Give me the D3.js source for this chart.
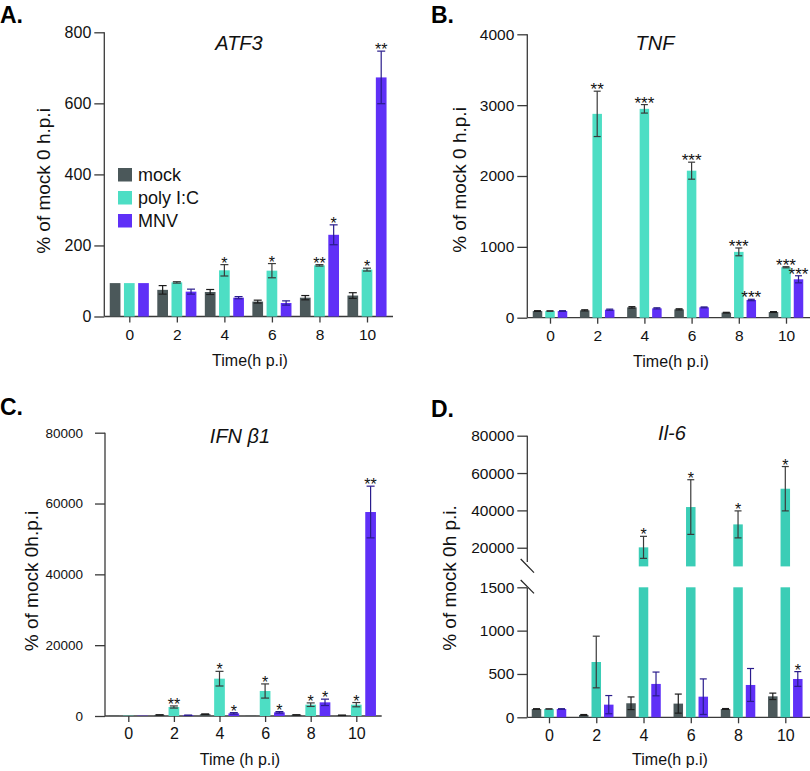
<!DOCTYPE html>
<html>
<head>
<meta charset="utf-8">
<script src="https://cdn.jsdelivr.net/npm/d3@7"></script>
<style>
  html, body { margin: 0; padding: 0; background: #fff; }
  svg { display: block; font-family: Arial, "Liberation Sans", Helvetica, sans-serif; }
</style>
</head>
<body>
<svg id="chart" width="810" height="771"></svg>
<script>
// ---------------- DATA ----------------
const categories = ["0", "2", "4", "6", "8", "10"];
const seriesNames = ["mock", "poly I:C", "MNV"];

// A. ATF3
const atf3Mock = [94, 75, 69, 42, 53, 59];
const atf3MockErr = [0, 12, 7, 4, 6, 8];
const atf3Poly = [94, 96, 130, 129, 144, 132];
const atf3PolyErr = [0, 2, 16, 20, 2, 4];
const atf3Mnv = [94, 70, 53, 38, 230, 673];
const atf3MnvErr = [0, 7, 3, 6, 28, 74];
const atf3PolyStars = ["", "", "*", "*", "**", "*"];
const atf3MnvStars = ["", "", "", "", "*", "**"];
const atf3Ticks = [0, 200, 400, 600, 800];

// B. TNF
const tnfMock = [94, 104, 146, 118, 71, 80];
const tnfMockErr = [5, 8, 10, 8, 5, 6];
const tnfPoly = [94, 2877, 2948, 2075, 929, 712];
const tnfPolyErr = [5, 320, 60, 120, 55, 8];
const tnfMnv = [94, 113, 132, 146, 250, 542];
const tnfMnvErr = [5, 8, 8, 6, 10, 50];
const tnfPolyStars = ["", "**", "***", "***", "***", "***"];
const tnfMnvStars = ["", "", "", "", "***", "***"];
const tnfTicks = [0, 1000, 2000, 3000, 4000];

// C. IFN beta1
const ifnMock = [100, 300, 500, 100, 300, 200];
const ifnMockErr = [0, 50, 100, 0, 50, 50];
const ifnPoly = [100, 2541, 10541, 7059, 3200, 3200];
const ifnPolyErr = [0, 300, 2070, 2000, 500, 600];
const ifnMnv = [100, 200, 750, 1035, 3860, 57600];
const ifnMnvErr = [0, 50, 200, 200, 900, 7300];
const ifnPolyStars = ["", "**", "*", "*", "*", "*"];
const ifnMnvStars = ["", "", "*", "*", "*", "**"];
const ifnTicks = [0, 20000, 40000, 60000, 80000];

// D. Il-6 (broken axis)
const il6Mock = [96, 27, 162, 158, 96, 242];
const il6MockErr = [3, 5, 73, 110, 5, 37];
const il6Poly = [96, 638, 20200, 41786, 32500, 51607];
const il6PolyErr = [3, 298, 5900, 14640, 7230, 11875];
const il6Mnv = [96, 146, 385, 238, 373, 442];
const il6MnvErr = [3, 105, 137, 205, 190, 85];
const il6PolyStars = ["", "", "*", "*", "*", "*"];
const il6MnvStars = ["", "", "", "", "", "*"];
const il6TicksLow = [0, 500, 1000, 1500];
const il6TicksHigh = [20000, 40000, 60000, 80000];
const il6LowDomain = [0, 1500];
const il6HighDomain = [10000, 80000];

// ---------------- STYLE ----------------
const colors = ["#4b585a", "#4ddec4", "#5f30f7"];
const errColors = ["#1c1c1c", "#3a3a3a", "#2a1c8c"];
const axisColor = "#3a3a3a";

const svg = d3.select("#chart");
svg.append("rect").attr("width", 810).attr("height", 771).attr("fill", "#fff");

function styleAxis(g, fontSize) {
  g.selectAll("line").attr("stroke", axisColor).attr("stroke-width", 1.3);
  g.selectAll("path").remove();
  g.selectAll("text").attr("fill", "#111").style("font-size", fontSize + "px")
    .style("font-family", "Arial, 'Liberation Sans', sans-serif");
}

function drawPanel(cfg) {
  const g = svg.append("g");
  // panel label
  g.append("text").attr("x", cfg.lx).attr("y", cfg.ly).text(cfg.label)
    .style("font-size", "23px").style("font-weight", "bold").attr("fill", "#000");
  // title
  g.append("text").attr("x", cfg.tx).attr("y", cfg.ty).text(cfg.title)
    .attr("text-anchor", "middle").style("font-size", "20px").style("font-style", "italic").attr("fill", "#111");

  const x = d3.scalePoint().domain(categories).range([cfg.xFirst, cfg.xLast]);

  // y scales (one or two segments)
  const segs = cfg.segments;
  function yOf(v) {
    for (const s of segs) {
      if (v >= s.domain[0] && v <= s.domain[1]) return s.scale(v);
    }
    return null;
  }
  segs.forEach(s => {
    s.scale = d3.scaleLinear().domain(s.domain).range(s.range);
    const ax = g.append("g").attr("transform", `translate(${cfg.yAxisX},0)`)
      .call(d3.axisLeft(s.scale).tickValues(s.ticks).tickSize(10).tickSizeOuter(0).tickPadding(cfg.yTickPad).tickFormat(d3.format("d")));
    styleAxis(ax, cfg.yTickFont);
    g.append("line").attr("x1", cfg.yAxisX).attr("x2", cfg.yAxisX)
      .attr("y1", s.lineTop).attr("y2", s.lineBottom)
      .attr("stroke", axisColor).attr("stroke-width", 1.3);
  });
  const low = segs[0].scale;
  const y0 = low(0);

  // x axis
  const xa = g.append("g").attr("transform", `translate(0,${y0})`)
    .call(d3.axisBottom(x).tickSize(6).tickSizeOuter(0).tickPadding(6));
  styleAxis(xa, cfg.xTickFont);
  g.append("line").attr("x1", cfg.yAxisX).attr("x2", cfg.xAxisEnd).attr("y1", y0).attr("y2", y0)
    .attr("stroke", axisColor).attr("stroke-width", 1.3);

  // bars
  const series = [cfg.mock, cfg.poly, cfg.mnv];
  const errs = [cfg.mockErr, cfg.polyErr, cfg.mnvErr];
  const stars = [null, cfg.polyStars, cfg.mnvStars];
  const barColors = cfg.colors || colors;
  series.forEach((vals, si) => {
    const off = (si - 1) * cfg.off;
    vals.forEach((v, i) => {
      const cx = x(categories[i]) + off;
      const bx = cx - cfg.barW / 2;
      if (segs.length === 1) {
        g.append("rect").attr("x", bx).attr("width", cfg.barW)
          .attr("y", low(v)).attr("height", y0 - low(v)).attr("fill", barColors[si]);
      } else {
        const hi = segs[1];
        if (v > segs[0].domain[1]) {
          g.append("rect").attr("x", bx).attr("width", cfg.barW)
            .attr("y", low(segs[0].domain[1])).attr("height", y0 - low(segs[0].domain[1])).attr("fill", barColors[si]);
          g.append("rect").attr("x", bx).attr("width", cfg.barW)
            .attr("y", hi.scale(v)).attr("height", hi.scale(hi.domain[0]) - hi.scale(v)).attr("fill", barColors[si]);
        } else {
          g.append("rect").attr("x", bx).attr("width", cfg.barW)
            .attr("y", low(v)).attr("height", y0 - low(v)).attr("fill", barColors[si]);
        }
      }
      const e = errs[si][i];
      let topY = yOf(v);
      if (e > 0) {
        const yT = yOf(v + e), yB = yOf(Math.max(0, v - e));
        topY = yT;
        const ec = errColors[si];
        g.append("line").attr("x1", cx).attr("x2", cx).attr("y1", yT).attr("y2", yB)
          .attr("stroke", ec).attr("stroke-width", 1.2);
        [yT, yB].forEach(yy => g.append("line").attr("x1", cx - cfg.cap).attr("x2", cx + cfg.cap)
          .attr("y1", yy).attr("y2", yy).attr("stroke", ec).attr("stroke-width", 1.2));
      }
      if (stars[si] && stars[si][i]) {
        g.append("text").attr("x", cx).attr("y", topY + 4).attr("text-anchor", "middle")
          .style("font-size", cfg.starFont + "px").attr("fill", "#111").text(stars[si][i]);
      }
    });
  });

  // axis labels
  g.append("text").attr("transform", `translate(${cfg.ylx},${cfg.yly}) rotate(-90)`)
    .attr("text-anchor", "middle").attr("dy", "0.35em").style("font-size", "19px").attr("fill", "#111").text(cfg.ylabel);
  g.append("text").attr("x", cfg.xlx).attr("y", cfg.xly).attr("text-anchor", "middle")
    .style("font-size", "16px").attr("fill", "#111").text(cfg.xlabel);
  return g;
}

// Panel A
const gA = drawPanel({
  label: "A.", lx: 0, ly: 23, title: "ATF3", tx: 239, ty: 50,
  yAxisX: 104.3, xAxisEnd: 393, xFirst: 129.3, xLast: 367,
  segments: [{ domain: [0, 800], range: [316.5, 32.3], ticks: atf3Ticks, lineTop: 32.3, lineBottom: 316.5 }],
  yTickFont: 16, xTickFont: 15.5, yTickPad: 3,
  barW: 10.7, off: 14.2, cap: 4, starFont: 16,
  mock: atf3Mock, mockErr: atf3MockErr, poly: atf3Poly, polyErr: atf3PolyErr, mnv: atf3Mnv, mnvErr: atf3MnvErr,
  polyStars: atf3PolyStars, mnvStars: atf3MnvStars,
  ylabel: "% of mock 0 h.p.i", ylx: 43, yly: 181, xlabel: "Time(h p.i)", xlx: 250, xly: 366
});
// legend in A
seriesNames.forEach((n, i) => {
  gA.append("rect").attr("x", 118).attr("y", 168 + i * 23).attr("width", 14).attr("height", 13.5).attr("fill", colors[i]);
  gA.append("text").attr("x", 138).attr("y", 181 + i * 23).style("font-size", "18px").attr("fill", "#111").text(n);
});

// Panel B
drawPanel({
  label: "B.", lx: 431, ly: 23, title: "TNF", tx: 655, ty: 50,
  yAxisX: 527.3, xAxisEnd: 810, xFirst: 550, xLast: 786,
  segments: [{ domain: [0, 4000], range: [317.7, 34.3], ticks: tnfTicks, lineTop: 34.3, lineBottom: 317.7 }],
  yTickFont: 15.5, xTickFont: 15.5, yTickPad: 3,
  barW: 9.5, off: 12.5, cap: 3.5, starFont: 17,
  mock: tnfMock, mockErr: tnfMockErr, poly: tnfPoly, polyErr: tnfPolyErr, mnv: tnfMnv, mnvErr: tnfMnvErr,
  polyStars: tnfPolyStars, mnvStars: tnfMnvStars,
  ylabel: "% of mock 0 h.p.i", ylx: 459, yly: 180, xlabel: "Time(h p.i)", xlx: 671, xly: 367
});

// Panel C
drawPanel({
  label: "C.", lx: 0, ly: 415, title: "IFN β1", tx: 240, ty: 443,
  yAxisX: 105, xAxisEnd: 381.7, xFirst: 128.3, xLast: 356.3,
  segments: [{ domain: [0, 80000], range: [716, 432.7], ticks: ifnTicks, lineTop: 432.7, lineBottom: 716 }],
  yTickFont: 13.5, xTickFont: 16, yTickPad: 12,
  barW: 10.7, off: 14.3, cap: 4, starFont: 16,
  mock: ifnMock, mockErr: ifnMockErr, poly: ifnPoly, polyErr: ifnPolyErr, mnv: ifnMnv, mnvErr: ifnMnvErr,
  polyStars: ifnPolyStars, mnvStars: ifnMnvStars,
  ylabel: "% of mock 0h.p.i", ylx: 31, yly: 581, xlabel: "Time (h p.i)", xlx: 240, xly: 765
});

// Panel D (broken axis)
const gD = drawPanel({
  label: "D.", lx: 431, ly: 417, title: "Il-6", tx: 672, ty: 440,
  yAxisX: 527.3, xAxisEnd: 810, xFirst: 549, xLast: 785.3,
  segments: [
    { domain: il6LowDomain, range: [717.3, 587.3], ticks: il6TicksLow, lineTop: 588, lineBottom: 717.3 },
    { domain: il6HighDomain, range: [566.4, 435.7], ticks: il6TicksHigh, lineTop: 435.7, lineBottom: 562 }
  ],
  colors: ["#4b585a", "#3bcdb6", "#5f30f7"],
  yTickFont: 15.5, xTickFont: 16, yTickPad: 3,
  barW: 9.5, off: 12.5, cap: 3.5, starFont: 16,
  mock: il6Mock, mockErr: il6MockErr, poly: il6Poly, polyErr: il6PolyErr, mnv: il6Mnv, mnvErr: il6MnvErr,
  polyStars: il6PolyStars, mnvStars: il6MnvStars,
  ylabel: "% of mock 0h p.i.", ylx: 449, yly: 578, xlabel: "Time(h p.i)", xlx: 670, xly: 765
});
// break marks
[[559, 572.7], [580, 593.3]].forEach(([a, b]) => {
  gD.append("line").attr("x1", 520.7).attr("x2", 534).attr("y1", a).attr("y2", b)
    .attr("stroke", "#222").attr("stroke-width", 1.2);
});
</script>
</body>
</html>
